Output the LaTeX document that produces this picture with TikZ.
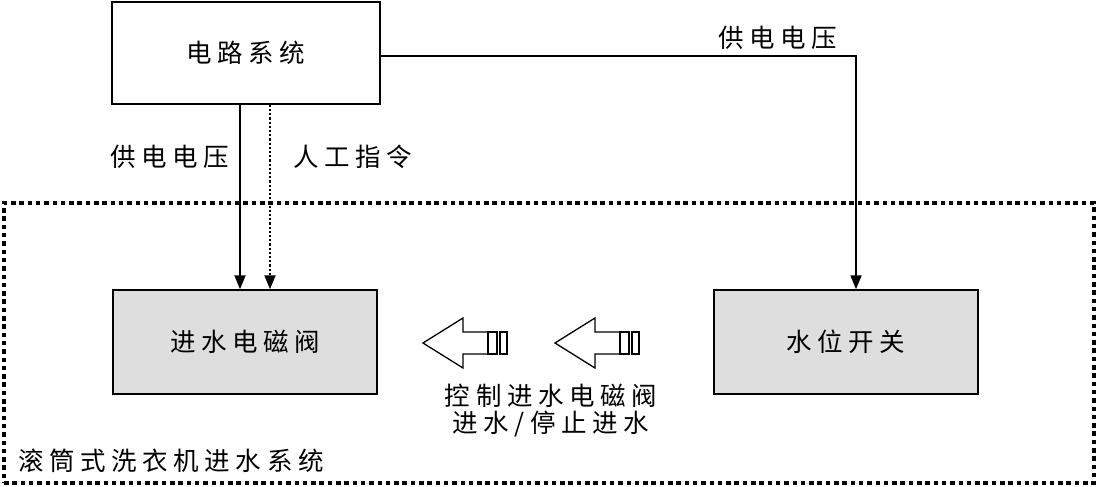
\documentclass[tikz,border=0pt]{standalone}
\usepackage{fontspec}
\newfontfamily\cjk[LetterSpace=22]{Noto Sans CJK SC}
\usetikzlibrary{arrows.meta}
\tikzset{
  every node/.style={font=\cjk\fontsize{25.5pt}{29pt}\selectfont, inner sep=0pt},
  sysbox/.style={draw, line width=1.4pt, minimum width=268pt, minimum height=102pt},
  unitbox/.style={draw, line width=1.4pt, fill=black!13, minimum width=264pt, minimum height=104pt},
  framebox/.style={draw, line width=3.6pt, dash pattern=on 4.5pt off 3.8pt, minimum width=1090pt, minimum height=280pt},
  arr/.style={line width=1.8pt, -{Triangle[length=14pt,width=11pt]}},
  dotarr/.style={line width=1.8pt, dash pattern=on 2.2pt off 2pt, -{Triangle[length=14pt,width=11pt]}},
  hollow arrow/.pic={
    \draw[line width=1.3pt, line join=miter] (0,0) -- (40,-25) -- (40,-11) -- (65,-11) -- (65,11) -- (40,11) -- (40,25) -- cycle;
    \draw[line width=1.6pt] (65,-11) rectangle (74,11);
    \draw[line width=1.6pt] (77,-11) rectangle (84,11);
  }
}
\begin{document}
\begin{tikzpicture}[x=1pt,y=-1pt]
\useasboundingbox (0,0) rectangle (1100,487);
\node[framebox] (frame) at (549,343) {};
\node[sysbox] (sys) at (246,53) {电路系统};
\node[unitbox] (valve) at (245,342) {进水电磁阀};
\node[unitbox] (level) at (846,342) {水位开关};
\draw[arr] ([xshift=-6pt]sys.south) -- ([xshift=-6pt]sys.south |- valve.north);
\draw[dotarr] ([xshift=24pt]sys.south) -- ([xshift=24pt]sys.south |- valve.north);
\draw[arr] ([yshift=-3pt]sys.east) -| ([xshift=10pt]level.north);
\node (l1) at (170,157) {供电电压};
\node (l2) at (353,157) {人工指令};
\node (l3) at (778,38) {供电电压};
\pic at (423,343) {hollow arrow};
\pic at (555,343) {hollow arrow};
\node[align=center] (l4) at (551,411) {控制进水电磁阀\\[-2pt]进水/停止进水};
\node[anchor=west] (l5) at (18,461) {滚筒式洗衣机进水系统};
\end{tikzpicture}
\end{document}
